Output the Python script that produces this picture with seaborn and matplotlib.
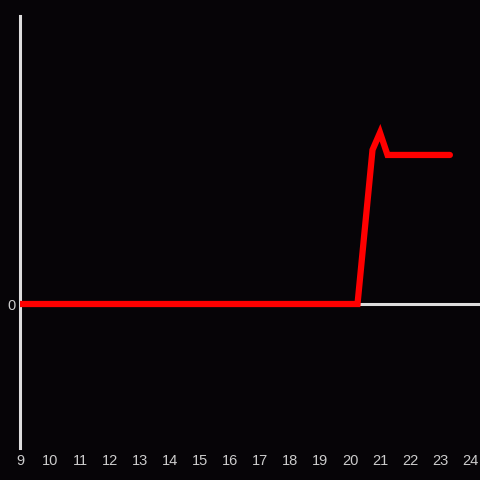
import pandas as pd
import numpy as np
import matplotlib.pyplot as plt
import seaborn as sns

# Werte
hours = [9, 10, 11, 12, 13, 14, 15, 16, 17, 18, 19, 20, 20.25, 20.75, 21.0, 21.25, 22, 23, 23.33]
values = [0, 0, 0, 0, 0, 0, 0, 0, 0, 0, 0, 0, 0, 1.07, 1.19, 1.035, 1.035, 1.035, 1.035]
xticks = list(range(9, 25))

df = pd.DataFrame({'hour': hours, 'value': values})

bg = '#060407'
sns.set_style('dark', {'axes.facecolor': bg, 'figure.facecolor': bg})
plt.rcParams['font.family'] = ['Liberation Sans', 'DejaVu Sans']

fig = plt.figure(figsize=(4.8, 4.8), dpi=100)
ax = fig.add_axes([20 / 480, 32 / 480, 460 / 480, 432 / 480])
ax.set_facecolor(bg)

ax.axhline(0, color='#dddddd', lw=2.2, zorder=1)
sns.lineplot(data=df, x='hour', y='value', color='#ff0000', lw=4.5,
             ax=ax, zorder=3, solid_joinstyle='miter')

ax.set_xlim(9, 24.333)
ax.set_ylim(-1, 2)
ax.set_xticks(xticks)
ax.set_xticklabels([str(t) for t in xticks])
ax.set_yticks([0])
ax.set_yticklabels(['0'])
ax.tick_params(axis='both', length=0, colors='#cccccc', labelsize=10.5)
ax.tick_params(axis='x', pad=4)
ax.tick_params(axis='y', pad=3)
ax.set_xlabel('')
ax.set_ylabel('')
ax.grid(False)

for side in ['top', 'right', 'bottom']:
    ax.spines[side].set_visible(False)
ax.spines['left'].set_visible(True)
ax.spines['left'].set_color('#dddddd')
ax.spines['left'].set_linewidth(2.2)

plt.savefig('out.png', dpi=100, facecolor=bg)
